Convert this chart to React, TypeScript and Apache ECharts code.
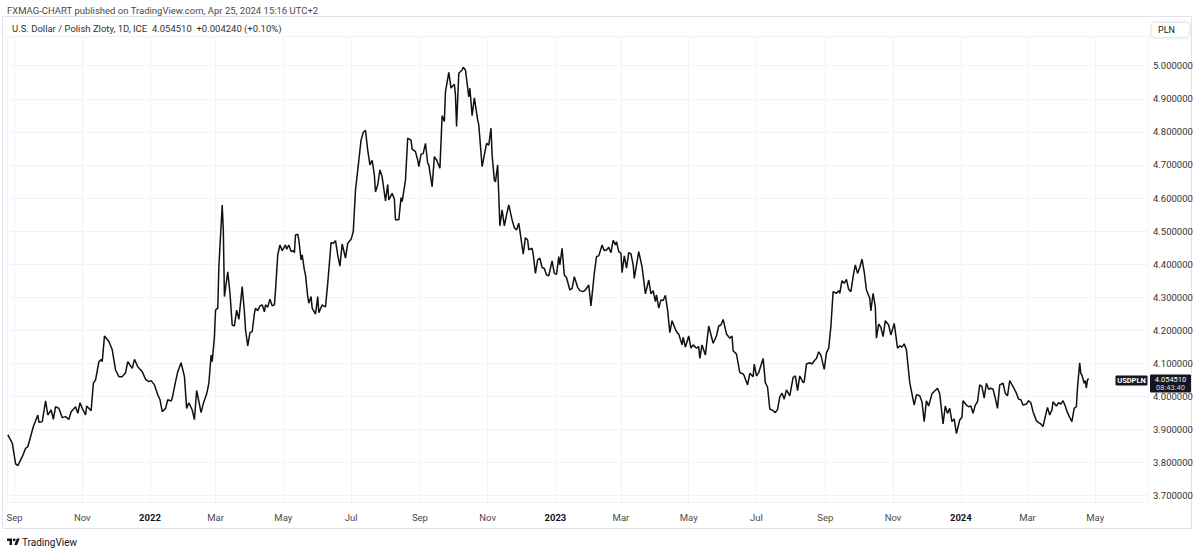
import React, { useEffect, useRef } from 'react';
import * as echarts from 'echarts';

// ---------- DATA ----------
const dates: string[] = [
  '2021-08-26','2021-08-30','2021-09-02','2021-09-04','2021-09-08','2021-09-11','2021-09-13','2021-09-18','2021-09-22','2021-09-23',
  '2021-09-26','2021-09-29','2021-10-01','2021-10-04','2021-10-06','2021-10-08','2021-10-11','2021-10-14','2021-10-17','2021-10-20',
  '2021-10-22','2021-10-26','2021-10-28','2021-10-30','2021-11-01','2021-11-04','2021-11-05','2021-11-09','2021-11-11','2021-11-13',
  '2021-11-16','2021-11-18','2021-11-19','2021-11-21','2021-11-25','2021-11-28','2021-12-01','2021-12-04','2021-12-07','2021-12-10',
  '2021-12-12','2021-12-16','2021-12-18','2021-12-21','2021-12-25','2021-12-28','2021-12-31','2022-01-02','2022-01-05','2022-01-08',
  '2022-01-10','2022-01-12','2022-01-15','2022-01-17','2022-01-20','2022-01-21','2022-01-24','2022-01-26','2022-01-29','2022-02-01',
  '2022-02-03','2022-02-05','2022-02-08','2022-02-10','2022-02-12','2022-02-16','2022-02-18','2022-02-21','2022-02-23','2022-02-25',
  '2022-02-26','2022-02-28','2022-03-01','2022-03-03','2022-03-04','2022-03-07','2022-03-08','2022-03-09','2022-03-12','2022-03-14',
  '2022-03-16','2022-03-18','2022-03-20','2022-03-22','2022-03-25','2022-03-27','2022-03-28','2022-03-30','2022-04-01','2022-04-03',
  '2022-04-05','2022-04-06','2022-04-08','2022-04-10','2022-04-12','2022-04-14','2022-04-15','2022-04-17','2022-04-19','2022-04-21',
  '2022-04-23','2022-04-24','2022-04-26','2022-04-28','2022-04-30','2022-05-03','2022-05-04','2022-05-06','2022-05-08','2022-05-10',
  '2022-05-11','2022-05-12','2022-05-14','2022-05-15','2022-05-17','2022-05-18','2022-05-20','2022-05-21','2022-05-23','2022-05-24',
  '2022-05-26','2022-05-27','2022-05-30','2022-06-01','2022-06-02','2022-06-05','2022-06-06','2022-06-08','2022-06-10','2022-06-11',
  '2022-06-13','2022-06-15','2022-06-17','2022-06-19','2022-06-21','2022-06-23','2022-06-25','2022-06-26','2022-06-28','2022-07-01',
  '2022-07-03','2022-07-05','2022-07-06','2022-07-08','2022-07-10','2022-07-12','2022-07-14','2022-07-16','2022-07-18','2022-07-20',
  '2022-07-22','2022-07-23','2022-07-25','2022-07-27','2022-07-29','2022-08-01','2022-08-03','2022-08-04','2022-08-07','2022-08-09',
  '2022-08-10','2022-08-13','2022-08-15','2022-08-16','2022-08-19','2022-08-21','2022-08-24','2022-08-25','2022-08-28','2022-08-30',
  '2022-08-31','2022-09-02','2022-09-04','2022-09-06','2022-09-08','2022-09-09','2022-09-12','2022-09-14','2022-09-16','2022-09-19',
  '2022-09-21','2022-09-23','2022-09-24','2022-09-27','2022-09-29','2022-09-30','2022-10-02','2022-10-03','2022-10-04','2022-10-06',
  '2022-10-09','2022-10-10','2022-10-12','2022-10-15','2022-10-16','2022-10-18','2022-10-20','2022-10-23','2022-10-24','2022-10-27',
  '2022-10-29','2022-10-31','2022-11-02','2022-11-04','2022-11-05','2022-11-07','2022-11-08','2022-11-10','2022-11-12','2022-11-14',
  '2022-11-16','2022-11-18','2022-11-20','2022-11-23','2022-11-25','2022-11-27','2022-11-29','2022-12-01','2022-12-03','2022-12-05',
  '2022-12-07','2022-12-08','2022-12-11','2022-12-12','2022-12-14','2022-12-16','2022-12-18','2022-12-20','2022-12-22','2022-12-24',
  '2022-12-26','2022-12-29','2022-12-31','2023-01-02','2023-01-04','2023-01-05','2023-01-07','2023-01-09','2023-01-11','2023-01-14',
  '2023-01-16','2023-01-18','2023-01-21','2023-01-23','2023-01-26','2023-01-28','2023-01-31','2023-02-02','2023-02-05','2023-02-07',
  '2023-02-09','2023-02-12','2023-02-14','2023-02-16','2023-02-18','2023-02-20','2023-02-22','2023-02-24','2023-02-25','2023-02-27',
  '2023-03-01','2023-03-02','2023-03-04','2023-03-06','2023-03-08','2023-03-10','2023-03-12','2023-03-13','2023-03-17','2023-03-20',
  '2023-03-23','2023-03-26','2023-03-28','2023-03-30','2023-04-01','2023-04-02','2023-04-04','2023-04-06','2023-04-08','2023-04-10',
  '2023-04-12','2023-04-14','2023-04-16','2023-04-19','2023-04-21','2023-04-22','2023-04-25','2023-04-26','2023-04-28','2023-05-01',
  '2023-05-03','2023-05-05','2023-05-08','2023-05-10','2023-05-11','2023-05-13','2023-05-16','2023-05-19','2023-05-23','2023-05-26',
  '2023-05-28','2023-05-30','2023-06-01','2023-06-04','2023-06-07','2023-06-09','2023-06-10','2023-06-13','2023-06-16','2023-06-19',
  '2023-06-20','2023-06-23','2023-06-25','2023-06-28','2023-06-29','2023-07-01','2023-07-03','2023-07-07','2023-07-09','2023-07-11',
  '2023-07-13','2023-07-16','2023-07-18','2023-07-20','2023-07-22','2023-07-24','2023-07-26','2023-07-28','2023-07-31','2023-08-03',
  '2023-08-05','2023-08-07','2023-08-09','2023-08-12','2023-08-13','2023-08-15','2023-08-18','2023-08-20','2023-08-22','2023-08-24',
  '2023-08-26','2023-08-28','2023-08-31','2023-09-02','2023-09-04','2023-09-06','2023-09-08','2023-09-11','2023-09-13','2023-09-14',
  '2023-09-16','2023-09-18','2023-09-20','2023-09-22','2023-09-24','2023-09-26','2023-09-28','2023-09-30','2023-10-02','2023-10-04',
  '2023-10-06','2023-10-08','2023-10-11','2023-10-12','2023-10-14','2023-10-16','2023-10-17','2023-10-19','2023-10-21','2023-10-23',
  '2023-10-25','2023-10-28','2023-10-30','2023-11-02','2023-11-05','2023-11-07','2023-11-09','2023-11-11','2023-11-13','2023-11-16',
  '2023-11-18','2023-11-20','2023-11-22','2023-11-25','2023-11-27','2023-11-29','2023-12-01','2023-12-03','2023-12-06','2023-12-08',
  '2023-12-11','2023-12-13','2023-12-16','2023-12-18','2023-12-20','2023-12-22','2023-12-24','2023-12-26','2023-12-28','2023-12-31',
  '2024-01-02','2024-01-03','2024-01-06','2024-01-08','2024-01-10','2024-01-12','2024-01-14','2024-01-16','2024-01-18','2024-01-20',
  '2024-01-22','2024-01-24','2024-01-26','2024-01-28','2024-01-30','2024-02-01','2024-02-03','2024-02-05','2024-02-08','2024-02-10',
  '2024-02-12','2024-02-14','2024-02-17','2024-02-20','2024-02-22','2024-02-24','2024-02-26','2024-02-29','2024-03-02','2024-03-04',
  '2024-03-06','2024-03-09','2024-03-11','2024-03-13','2024-03-15','2024-03-17','2024-03-19','2024-03-21','2024-03-23','2024-03-24',
  '2024-03-27','2024-03-29','2024-03-31','2024-04-02','2024-04-04','2024-04-06','2024-04-08','2024-04-10','2024-04-12','2024-04-14',
  '2024-04-15','2024-04-17','2024-04-18','2024-04-19','2024-04-21','2024-04-22','2024-04-23','2024-04-24','2024-04-25',
];

const closes: number[] = [
  3.884,3.859,3.796,3.791,3.818,3.843,3.848,3.909,3.944,3.922,
  3.924,3.987,3.944,3.959,3.931,3.969,3.964,3.936,3.939,3.931,
  3.954,3.969,3.949,3.981,3.964,3.944,3.971,3.957,4.040,4.050,
  4.105,4.112,4.105,4.183,4.166,4.141,4.080,4.060,4.060,4.072,
  4.105,4.085,4.112,4.090,4.075,4.052,4.045,4.048,4.035,4.005,
  3.990,3.954,3.964,3.990,3.986,3.995,4.045,4.075,4.102,4.060,
  3.964,3.981,3.959,3.930,4.018,3.951,3.979,4.008,4.040,4.125,
  4.105,4.181,4.261,4.267,4.392,4.579,4.503,4.302,4.377,4.312,
  4.216,4.213,4.261,4.233,4.332,4.256,4.201,4.153,4.193,4.196,
  4.251,4.267,4.259,4.274,4.277,4.256,4.277,4.270,4.294,4.274,
  4.277,4.322,4.428,4.458,4.441,4.458,4.445,4.458,4.438,4.441,
  4.435,4.488,4.491,4.473,4.413,4.428,4.382,4.367,4.302,4.282,
  4.302,4.267,4.249,4.302,4.253,4.277,4.274,4.271,4.342,4.382,
  4.465,4.463,4.471,4.428,4.394,4.461,4.433,4.418,4.463,4.475,
  4.498,4.624,4.654,4.714,4.775,4.799,4.805,4.745,4.700,4.714,
  4.669,4.618,4.640,4.685,4.664,4.591,4.641,4.594,4.614,4.597,
  4.534,4.534,4.601,4.589,4.654,4.781,4.775,4.748,4.740,4.715,
  4.695,4.732,4.735,4.765,4.705,4.700,4.634,4.725,4.715,4.690,
  4.849,4.831,4.921,4.980,4.932,4.937,4.944,4.911,4.816,4.977,
  4.987,4.995,4.987,4.906,4.932,4.849,4.903,4.836,4.821,4.695,
  4.730,4.765,4.760,4.811,4.730,4.654,4.649,4.700,4.516,4.564,
  4.516,4.549,4.579,4.534,4.510,4.503,4.524,4.478,4.430,4.480,
  4.473,4.443,4.448,4.430,4.372,4.413,4.418,4.390,4.387,4.367,
  4.365,4.410,4.372,4.369,4.423,4.398,4.448,4.367,4.359,4.322,
  4.327,4.362,4.330,4.320,4.317,4.322,4.337,4.274,4.372,4.423,
  4.425,4.458,4.441,4.443,4.451,4.435,4.473,4.458,4.468,4.438,
  4.433,4.374,4.425,4.388,4.435,4.431,4.398,4.357,4.438,4.392,
  4.310,4.352,4.310,4.320,4.287,4.307,4.267,4.292,4.290,4.306,
  4.261,4.193,4.229,4.203,4.191,4.189,4.156,4.179,4.149,4.183,
  4.146,4.156,4.146,4.151,4.115,4.156,4.125,4.213,4.161,4.183,
  4.213,4.216,4.233,4.189,4.176,4.183,4.138,4.128,4.072,4.068,
  4.062,4.035,4.070,4.060,4.098,4.062,4.072,4.115,4.042,4.028,
  3.962,3.957,3.951,3.961,3.999,4.010,3.992,4.020,4.002,4.058,
  4.062,4.018,4.062,4.042,4.045,4.098,4.102,4.098,4.108,4.115,
  4.135,4.125,4.082,4.132,4.146,4.211,4.317,4.312,4.320,4.312,
  4.350,4.342,4.354,4.324,4.317,4.362,4.398,4.372,4.390,4.415,
  4.377,4.322,4.297,4.259,4.312,4.271,4.176,4.219,4.209,4.181,
  4.229,4.216,4.186,4.221,4.146,4.153,4.149,4.159,4.141,4.042,
  4.008,3.974,4.005,4.002,3.984,3.924,3.987,3.971,4.008,4.015,
  4.025,4.008,3.917,3.971,3.949,3.964,3.924,3.932,3.888,3.929,
  3.937,3.987,3.974,3.969,3.971,3.949,3.974,3.984,4.035,4.030,
  3.995,4.040,4.022,4.025,4.022,3.995,3.964,4.035,4.040,4.010,
  4.002,4.048,4.030,4.010,3.992,3.990,3.974,3.977,3.987,3.981,
  3.954,3.927,3.921,3.917,3.909,3.939,3.967,3.944,3.959,3.984,
  3.971,3.981,3.977,3.987,3.971,3.951,3.937,3.924,3.964,3.969,
  4.025,4.102,4.070,4.065,4.040,4.048,4.025,4.050,4.05451,
];

const monthNames = ['Jan', 'Feb', 'Mar', 'Apr', 'May', 'Jun', 'Jul', 'Aug', 'Sep', 'Oct', 'Nov', 'Dec'];
const symbolName = 'USDPLN';
const lastPriceText = '4.054510';
const countdownText = '08:43:40';
const publishedText = 'FXMAG-CHART published on TradingView.com, Apr 25, 2024 15:16 UTC+2';
const legendText = 'U.S. Dollar / Polish Zloty, 1D, ICE  4.054510  +0.004240 (+0.10%)';
const currencyText = 'PLN';
const brandText = 'TradingView';

const TV_LOGO = 'M14 22H7V11H0V4h14v18zM28 22h-8l7.5-18h8L28 22zM20 4a4 4 0 1 1 0 8a4 4 0 1 1 0-8z';
echarts.graphic.registerShape('tvlogo', echarts.graphic.extendPath(TV_LOGO, {}) as any);

const FONT = 'Roboto, "Noto Sans", "Liberation Sans", sans-serif';
const DARK = '#131722';

export default function App() {
  const ref = useRef<HTMLDivElement>(null);

  useEffect(() => {
    if (!ref.current) return;
    const chart = echarts.init(ref.current, null, { renderer: 'svg' });
    const data = dates.map((d, i) => [d, closes[i]]);

    chart.setOption({
      animation: false,
      backgroundColor: '#ffffff',
      textStyle: { fontFamily: FONT },
      grid: { left: 7, right: 52, top: 35.93, bottom: 46.68, containLabel: false },
      xAxis: {
        type: 'time',
        min: new Date(2021, 7, 25, 6).getTime(),
        max: new Date(2024, 5, 17, 12).getTime(),
        splitNumber: 15,
        axisLine: { show: false },
        axisTick: { show: false },
        axisLabel: {
          margin: 10,
          fontSize: 9.5,
          fontFamily: FONT,
          color: '#4a4a4a',
          hideOverlap: false,
          formatter: (val: number) => {
            const d = new Date(val);
            if (d.getDate() !== 1 || d.getHours() !== 0) return '';
            if (d.getMonth() === 0) return '{y|' + d.getFullYear() + '}';
            return '{m|' + monthNames[d.getMonth()] + '}';
          },
          rich: {
            y: { fontWeight: 'bold', color: DARK, fontSize: 9.5, fontFamily: FONT },
            m: { color: '#4a4a4a', fontSize: 9.5, fontFamily: FONT },
          },
        },
        splitLine: { show: true, lineStyle: { color: '#f0f3fa', width: 1 } },
      },
      yAxis: {
        type: 'value',
        position: 'right',
        min: 3.68,
        max: 5.09,
        splitNumber: 14,
        axisLine: { show: false },
        axisTick: { show: false },
        axisLabel: {
          margin: 5,
          fontSize: 9.5,
          fontFamily: FONT,
          color: '#333333',
          showMinLabel: false,
          showMaxLabel: false,
          formatter: (v: number) => {
            if (Math.abs(v * 10 - Math.round(v * 10)) > 1e-6) return '';
            return v.toFixed(6);
          },
        },
        splitLine: { show: true, lineStyle: { color: '#f0f3fa', width: 1 } },
      },
      series: [
        {
          type: 'line',
          data,
          showSymbol: false,
          symbol: 'none',
          silent: true,
          lineStyle: { color: '#111111', width: 1.5 },
        },
      ],
    });

    const lastIdx = dates.length - 1;
    const pt = chart.convertToPixel({ seriesIndex: 0 }, [dates[lastIdx], closes[lastIdx]]) as number[];
    const ly = pt[1];

    chart.setOption({
      graphic: [
        { type: 'rect', silent: true, shape: { x: 2.5, y: 16.5, width: 1189, height: 512 }, style: { fill: 'none', stroke: '#e0e3eb', lineWidth: 1 } },
        { type: 'text', silent: true, x: 7, y: 10, style: { text: publishedText, fontSize: 9.5, fontFamily: FONT, fill: '#4a4a4a', verticalAlign: 'middle' } },
        { type: 'text', silent: true, x: 12, y: 28.5, style: { text: legendText, fontSize: 9.5, fontFamily: FONT, fill: '#333333', verticalAlign: 'middle' } },
        { type: 'rect', silent: true, shape: { x: 1151.5, y: 22.5, width: 38, height: 15, r: 3 }, style: { fill: '#ffffff', stroke: '#e6e8ee', lineWidth: 1, shadowBlur: 3, shadowColor: 'rgba(0,0,0,0.12)' } },
        { type: 'text', silent: true, x: 1158, y: 30, style: { text: currencyText, fontSize: 9, fontFamily: FONT, fill: DARK, verticalAlign: 'middle' } },
        { type: 'rect', silent: true, shape: { x: 1115.5, y: ly - 3, width: 32, height: 10, r: 1 }, style: { fill: DARK } },
        { type: 'text', silent: true, x: 1131.5, y: ly + 2, style: { text: symbolName, fontSize: 7.5, fontWeight: 'bold', fontFamily: FONT, fill: '#ffffff', align: 'center', verticalAlign: 'middle' } },
        { type: 'rect', silent: true, shape: { x: 1150, y: ly - 4, width: 41, height: 18, r: 1 }, style: { fill: DARK } },
        { type: 'text', silent: true, x: 1170.5, y: ly + 0.8, style: { text: lastPriceText, fontSize: 7.5, fontFamily: FONT, fill: '#ffffff', align: 'center', verticalAlign: 'middle' } },
        { type: 'text', silent: true, x: 1170.5, y: ly + 9, style: { text: countdownText, fontSize: 7.5, fontFamily: FONT, fill: '#d1d4dc', align: 'center', verticalAlign: 'middle' } },
        { type: 'tvlogo', silent: true, x: 7, y: 537, scaleX: 0.36, scaleY: 0.36, style: { fill: DARK } },
        { type: 'text', silent: true, x: 22, y: 542, style: { text: brandText, fontSize: 10, fontFamily: FONT, fill: DARK, verticalAlign: 'middle' } },
      ],
    });

    return () => chart.dispose();
  }, []);

  return (
    <div
      ref={ref}
      style={{ position: 'fixed', left: 0, top: 0, width: 1200, height: 549, background: '#ffffff' }}
    />
  );
}
